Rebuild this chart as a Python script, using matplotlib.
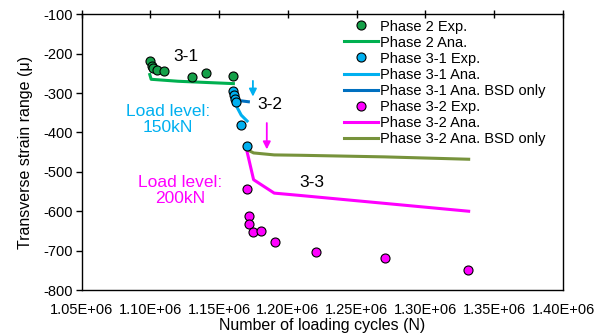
import matplotlib
matplotlib.use("Agg")
import matplotlib.pyplot as plt
from matplotlib.ticker import FuncFormatter

plt.rcParams['font.family'] = ['Liberation Sans', 'DejaVu Sans']

# ---- data ----
phase2_exp_N = [1.0997e6, 1.1009e6, 1.1021e6, 1.1046e6, 1.1099e6, 1.1301e6, 1.1402e6, 1.1603e6]
phase2_exp_y = [-219, -230, -237, -242, -244, -258, -249, -256]
phase2_ana_N = [1.0995e6, 1.1005e6, 1.1200e6, 1.1400e6, 1.1603e6]
phase2_ana_y = [-253, -265, -270, -273, -276]

phase31_exp_N = [1.1599e6, 1.1604e6, 1.1614e6, 1.1619e6, 1.1657e6, 1.1701e6]
phase31_exp_y = [-294, -304, -314, -323, -381, -435]
phase31_ana_N = [1.1608e6, 1.1628e6, 1.1660e6, 1.1703e6]
phase31_ana_y = [-308, -335, -356, -371]
phase31_bsd_N = [1.1620e6, 1.1712e6]
phase31_bsd_y = [-318, -322]

phase32_exp_N = [1.1701e6, 1.1713e6, 1.1720e6, 1.1744e6, 1.1803e6, 1.1907e6, 1.2203e6, 1.2707e6, 1.3306e6]
phase32_exp_y = [-543, -611, -632, -652, -649, -679, -704, -718, -748]
phase32_ana_N = [1.1700e6, 1.1750e6, 1.1900e6, 1.2090e6, 1.3314e6]
phase32_ana_y = [-445, -520, -554, -560, -600]
phase32_bsd_N = [1.1700e6, 1.1750e6, 1.1900e6, 1.2100e6, 1.2700e6, 1.3314e6]
phase32_bsd_y = [-443, -452, -457, -458, -462, -468]

x_ticks = [1.05e6, 1.10e6, 1.15e6, 1.20e6, 1.25e6, 1.30e6, 1.35e6, 1.40e6]
y_ticks = [-100, -200, -300, -400, -500, -600, -700, -800]

# ---- colours ----
c_green_m = '#15A049'
c_green_l = '#00B050'
c_blue = '#00B0F0'
c_dblue = '#0070C0'
c_mag = '#FF00FF'
c_olive = '#77933C'

fig = plt.figure(figsize=(6.06, 3.36), dpi=100)
ax = fig.add_axes([81.7/606, 1-290/336, (563-81.7)/606, (290-14.3)/336])

ms = 6.5
mew = 0.8
lw = 2.2

h1, = ax.plot(phase2_exp_N, phase2_exp_y, 'o', color=c_green_m, mec='black', mew=mew, ms=ms, zorder=5, label='Phase 2 Exp.')
h2, = ax.plot(phase2_ana_N, phase2_ana_y, '-', color=c_green_l, lw=lw, zorder=3, label='Phase 2 Ana.')
h3, = ax.plot(phase31_exp_N, phase31_exp_y, 'o', color=c_blue, mec='black', mew=mew, ms=ms, zorder=5, label='Phase 3-1 Exp.')
h4, = ax.plot(phase31_ana_N, phase31_ana_y, '-', color=c_blue, lw=lw, zorder=3, label='Phase 3-1 Ana.')
h5, = ax.plot(phase31_bsd_N, phase31_bsd_y, '-', color=c_dblue, lw=lw, zorder=3, label='Phase 3-1 Ana. BSD only')
h6, = ax.plot(phase32_exp_N, phase32_exp_y, 'o', color=c_mag, mec='black', mew=mew, ms=ms, zorder=5, label='Phase 3-2 Exp.')
h7, = ax.plot(phase32_ana_N, phase32_ana_y, '-', color=c_mag, lw=lw, zorder=3, label='Phase 3-2 Ana.')
h8, = ax.plot(phase32_bsd_N, phase32_bsd_y, '-', color=c_olive, lw=lw, zorder=3, label='Phase 3-2 Ana. BSD only')

ax.set_xlim(1.05e6, 1.40e6)
ax.set_ylim(-800, -100)
ax.set_xticks(x_ticks)
ax.set_yticks(y_ticks)
ax.xaxis.set_major_formatter(FuncFormatter(lambda v, p: f"{v:.2E}"))
ax.yaxis.set_major_formatter(FuncFormatter(lambda v, p: f"{int(round(v))}"))

ax.tick_params(axis='x', top=True, bottom=False, labeltop=False, labelbottom=True,
               direction='inout', length=6, width=1, labelsize=10.5, pad=6)
ax.tick_params(axis='y', left=True, right=False, direction='out', length=4, width=1,
               labelsize=10.5, pad=2)
for s in ax.spines.values():
    s.set_linewidth(1.0)
    s.set_color('black')

ax.set_xlabel('Number of loading cycles (N)', fontsize=11.5)
ax.set_ylabel('Transverse strain range (μ)', fontsize=11.5)
ax.xaxis.set_label_coords(0.5, -0.102)
ax.yaxis.set_label_coords(-0.101, 0.5)

# annotations
ax.text(1.1259e6, -208, '3-1', fontsize=12.5, ha='center', va='center')
ax.text(1.1870e6, -328, '3-2', fontsize=12.5, ha='center', va='center')
ax.text(1.2176e6, -527, '3-3', fontsize=12.5, ha='center', va='center')
ax.text(1.1128e6, -367, 'Load level:\n150kN', fontsize=12.5, ha='center', va='center',
        color=c_blue, linespacing=1.05)
ax.text(1.1219e6, -547, 'Load level:\n200kN', fontsize=12.5, ha='center', va='center',
        color=c_mag, linespacing=1.05)

ax.annotate('', xy=(1.1745e6, -316), xytext=(1.1745e6, -262),
            arrowprops=dict(arrowstyle='-|>', color=c_blue, lw=1.3, mutation_scale=11))
ax.annotate('', xy=(1.1846e6, -450), xytext=(1.1846e6, -369),
            arrowprops=dict(arrowstyle='-|>', color=c_mag, lw=1.3, mutation_scale=11))

leg = ax.legend(handles=[h1, h2, h3, h4, h5, h6, h7, h8], loc='upper left',
                bbox_to_anchor=(344/606, 1-19.5/336), bbox_transform=fig.transFigure,
                frameon=False, fontsize=10.5, handlelength=2.3, handletextpad=0.15,
                labelspacing=0.14, borderpad=0, borderaxespad=0, numpoints=1)

fig.savefig('out.png', dpi=100)
